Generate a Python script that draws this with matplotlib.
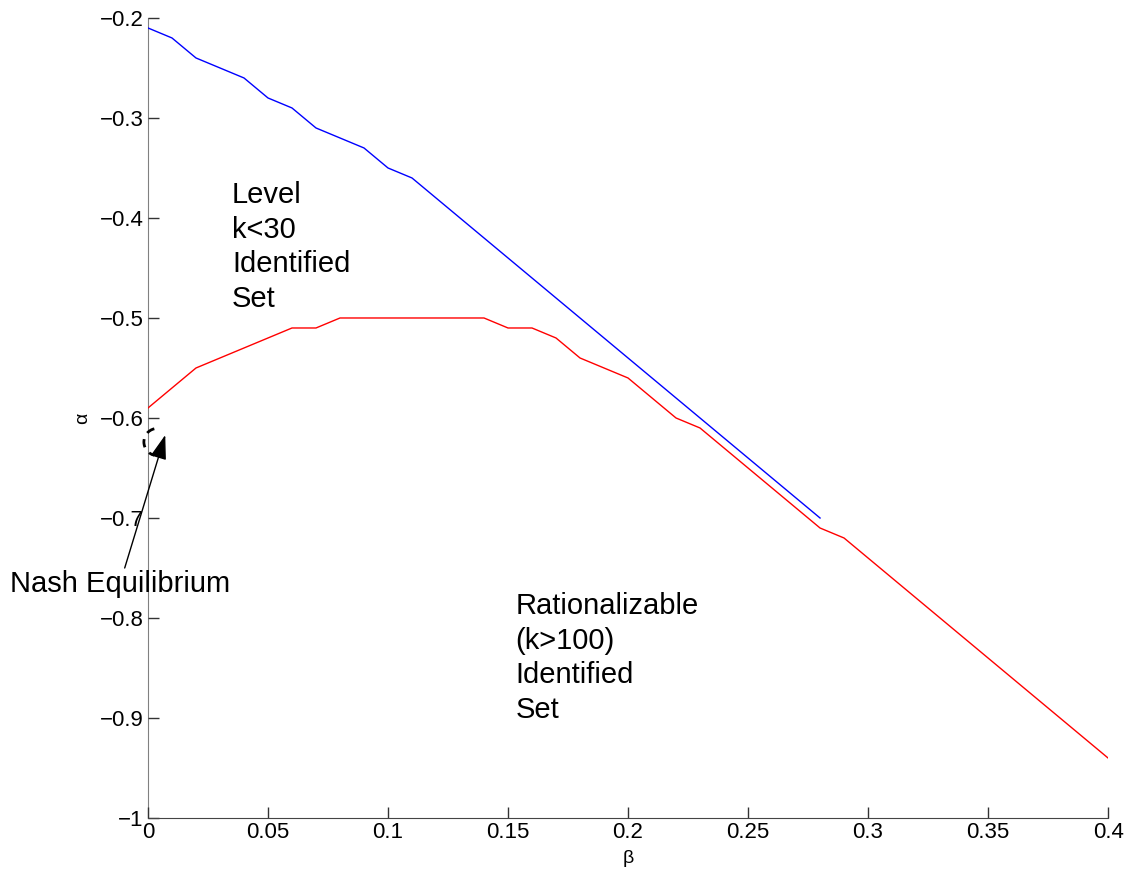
import matplotlib.pyplot as plt
from matplotlib.patches import Arc
import numpy as np

plt.rcParams['font.family'] = ['Liberation Sans', 'DejaVu Sans']

# data
beta_level = [0.00, 0.01, 0.02, 0.03, 0.04, 0.05, 0.06, 0.07, 0.08, 0.09,
              0.10, 0.11, 0.12, 0.13, 0.14, 0.15, 0.16, 0.17, 0.18, 0.19,
              0.20, 0.21, 0.22, 0.23, 0.24, 0.25, 0.26, 0.27, 0.28]
alpha_level = [-0.21, -0.22, -0.24, -0.25, -0.26, -0.28, -0.29, -0.31, -0.32, -0.33,
               -0.35, -0.36, -0.38, -0.40, -0.42, -0.44, -0.46, -0.48, -0.50, -0.52,
               -0.54, -0.56, -0.58, -0.60, -0.62, -0.64, -0.66, -0.68, -0.70]

beta_rat = [0.00, 0.01, 0.02, 0.03, 0.04, 0.05, 0.06, 0.07, 0.08, 0.09,
            0.10, 0.11, 0.12, 0.13, 0.14, 0.15, 0.16, 0.17, 0.18, 0.19,
            0.20, 0.21, 0.22, 0.23, 0.24, 0.25, 0.26, 0.27, 0.28, 0.29,
            0.30, 0.31, 0.32, 0.33, 0.34, 0.35, 0.36, 0.37, 0.38, 0.39, 0.40]
alpha_rat = [-0.59, -0.57, -0.55, -0.54, -0.53, -0.52, -0.51, -0.51, -0.50, -0.50,
             -0.50, -0.50, -0.50, -0.50, -0.50, -0.51, -0.51, -0.52, -0.54, -0.55,
             -0.56, -0.58, -0.60, -0.61, -0.63, -0.65, -0.67, -0.69, -0.71, -0.72,
             -0.74, -0.76, -0.78, -0.80, -0.82, -0.84, -0.86, -0.88, -0.90, -0.92, -0.94]

xticks = [0, 0.05, 0.1, 0.15, 0.2, 0.25, 0.3, 0.35, 0.4]
xticklabels = ['0', '0.05', '0.1', '0.15', '0.2', '0.25', '0.3', '0.35', '0.4']
yticks = [-1, -0.9, -0.8, -0.7, -0.6, -0.5, -0.4, -0.3, -0.2]
yticklabels = ['\u22121', '\u22120.9', '\u22120.8', '\u22120.7', '\u22120.6',
               '\u22120.5', '\u22120.4', '\u22120.3', '\u22120.2']

nash = (0.0038, -0.624)

fig = plt.figure(figsize=(11.27, 8.72), dpi=100)
ax = fig.add_axes([0.1313, 0.0619, 0.8519, 0.9175])

ax.plot(beta_level, alpha_level, color='blue', lw=1)
ax.plot(beta_rat, alpha_rat, color='red', lw=1)

ax.set_xlim(0, 0.4)
ax.set_ylim(-1, -0.2)
ax.set_xticks(xticks)
ax.set_xticklabels(xticklabels)
ax.set_yticks(yticks)
ax.set_yticklabels(yticklabels)
ax.tick_params(direction='in', length=8, width=1, labelsize=16, colors='#333333',
               labelcolor='black', pad=3)
ax.spines['top'].set_visible(False)
ax.spines['right'].set_visible(False)
ax.spines['left'].set_color('#808080')
ax.spines['bottom'].set_color('#444444')
ax.spines['left'].set_zorder(0)

ax.set_xlabel('\u03b2', fontsize=14, labelpad=5)
ax.set_ylabel('\u03b1', fontsize=14, labelpad=6)

ax.text(0.035, -0.363, 'Level\nk<30\nIdentified\nSet', fontsize=21,
        va='top', ha='left', linespacing=1.3)
ax.text(0.153, -0.774, 'Rationalizable\n(k>100)\nIdentified\nSet', fontsize=21,
        va='top', ha='left', linespacing=1.3)

# dashed arc around the Nash equilibrium
arc = Arc(nash, 0.011, 0.027, theta1=95, theta2=265, ls=(0, (3, 2.5)),
          lw=2, color='black', clip_on=False)
ax.add_patch(arc)

ax.text(-0.0575, -0.766, 'Nash Equilibrium', fontsize=21, ha='left', va='center')
ax.annotate('', xy=(0.0072, -0.617), xytext=(-0.0097, -0.750),
            annotation_clip=False,
            arrowprops=dict(arrowstyle='-|>,head_length=0.75,head_width=0.25',
                            mutation_scale=20, color='black', lw=1,
                            shrinkA=0, shrinkB=0))

fig.savefig('out.png', dpi=100)
